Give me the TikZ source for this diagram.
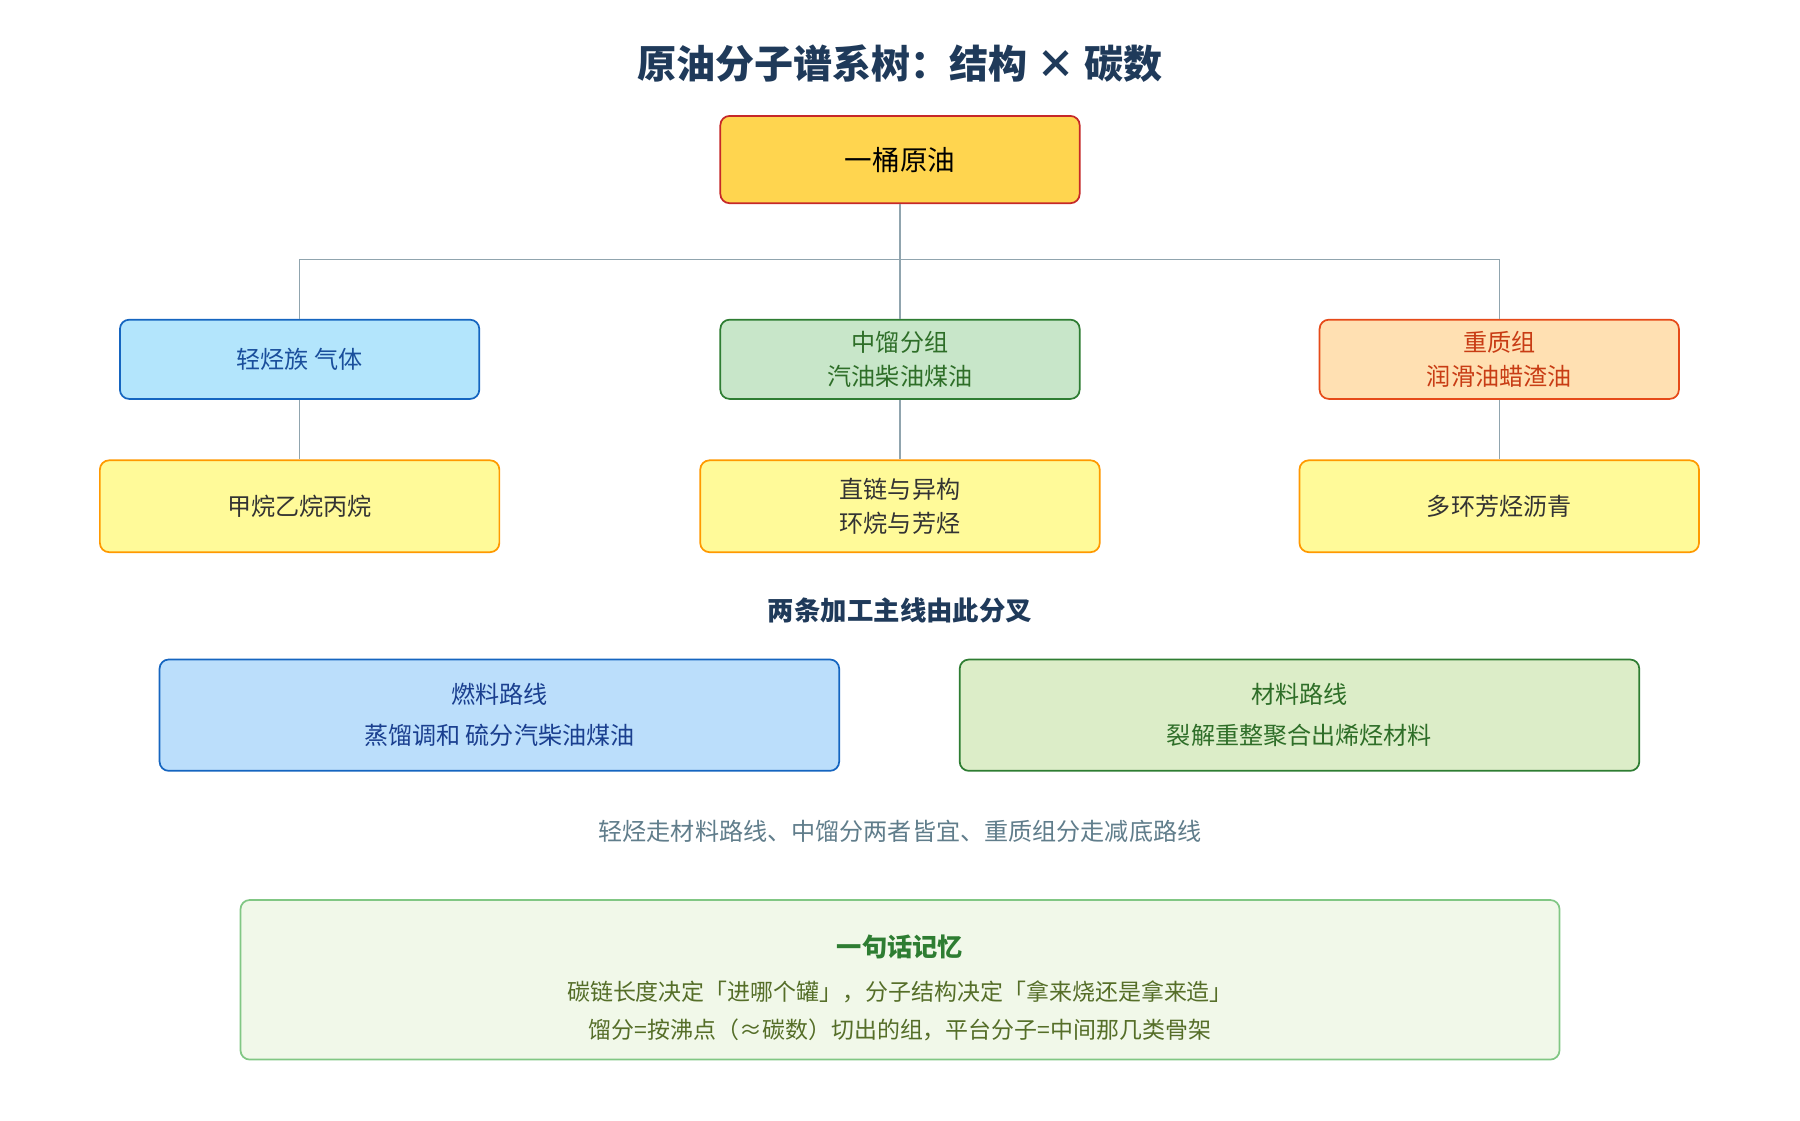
\documentclass[tikz,border=0pt]{standalone}
\usepackage{fontspec}
\setmainfont{Noto Sans CJK SC}
\usetikzlibrary{positioning}
\definecolor{navy}{HTML}{1F3A5A}
\definecolor{linegray}{HTML}{90A4AE}
\begin{document}
\begin{tikzpicture}[x=1pt, y=-1pt]
  % Rahmen.
  \useasboundingbox[fill=white] (0,0) rectangle (1568,976);

  \tikzstyle{box}=[rounded corners=8pt, line width=1.5pt, align=center, inner sep=0pt, font=\fontsize{21}{29}\selectfont]
  \tikzstyle{leaf}=[box, minimum width=348pt, minimum height=80pt, fill=yellow!40!white, draw=orange!80!yellow, text=black!80]
  \tikzstyle{group}=[box, minimum width=313pt, minimum height=69pt]
  \tikzstyle{route}=[box, minimum width=592pt, minimum height=97pt]
  \tikzstyle{link}=[draw=linegray, line width=1.3pt]

  % Titel.
  \node[font=\fontsize{34}{40}\selectfont\bfseries, text=navy] (title) at (784,55) {原油分子谱系树：结构 × 碳数};

  % Baum.
  \node[box, minimum width=313pt, minimum height=76pt, fill={rgb,255:red,255;green,213;blue,79}, draw={rgb,255:red,198;green,40;blue,40}, font=\fontsize{24}{30}\selectfont] (root) at (784,139) {一桶原油};

  \node[group, fill={rgb,255:red,179;green,229;blue,252}, draw={rgb,255:red,21;green,101;blue,192}, text={rgb,255:red,26;green,79;blue,156}] (light) at (261,313) {轻烃族 气体};
  \node[group, fill={rgb,255:red,200;green,230;blue,201}, draw={rgb,255:red,46;green,125;blue,50}, text={rgb,255:red,46;green,110;blue,40}] (middle) at (784,313) {中馏分组\\汽油柴油煤油};
  \node[group, fill={rgb,255:red,255;green,224;blue,178}, draw={rgb,255:red,230;green,74;blue,25}, text={rgb,255:red,200;green,60;blue,20}] (heavy) at (1306,313) {重质组\\润滑油蜡渣油};

  \node[leaf] (gas) at (261,441) {甲烷乙烷丙烷};
  \node[leaf] (chain) at (784,441) {直链与异构\\环烷与芳烃};
  \node[leaf] (ring) at (1306,441) {多环芳烃沥青};

  \coordinate (fork) at (784,226);
  \path[link] (root) -- (fork);
  \path[link] (fork) -| (light);
  \path[link] (fork) -- (middle);
  \path[link] (fork) -| (heavy);
  \path[link] (light) -- (gas);
  \path[link] (middle) -- (chain);
  \path[link] (heavy) -- (ring);

  % Routen.
  \node[font=\fontsize{23}{28}\selectfont\bfseries, text=navy] (split) at (784,532) {两条加工主线由此分叉};
  \node[route, fill={rgb,255:red,187;green,222;blue,251}, draw={rgb,255:red,21;green,101;blue,192}, text={rgb,255:red,26;green,63;blue,143}, font=\fontsize{21}{36}\selectfont] (fuel) at (435,623) {燃料路线\\蒸馏调和 硫分汽柴油煤油};
  \node[route, fill={rgb,255:red,220;green,237;blue,200}, draw={rgb,255:red,46;green,125;blue,50}, text={rgb,255:red,46;green,110;blue,40}, font=\fontsize{21}{36}\selectfont] (material) at (1132,623) {材料路线\\裂解重整聚合出烯烃材料};
  \node[font=\fontsize{21}{28}\selectfont, text={rgb,255:red,96;green,125;blue,139}] (note) at (784,724) {轻烃走材料路线、中馏分两者皆宜、重质组分走减底路线};

  % Merksatz.
  \node[box, minimum width=1149pt, minimum height=139pt, fill={rgb,255:red,241;green,248;blue,233}, draw={rgb,255:red,129;green,199;blue,132}] (memo) at (784,853.5) {};
  \node[font=\fontsize{22}{28}\selectfont\bfseries, text={rgb,255:red,46;green,125;blue,50}] (memohead) at (784,825) {一句话记忆};
  \node[font=\fontsize{20}{33}\selectfont, text={rgb,255:red,85;green,110;blue,40}, align=center] (memotext) at (784,880.5) {碳链长度决定「进哪个罐」，分子结构决定「拿来烧还是拿来造」\\馏分=按沸点（≈碳数）切出的组，平台分子=中间那几类骨架};
\end{tikzpicture}
\end{document}
